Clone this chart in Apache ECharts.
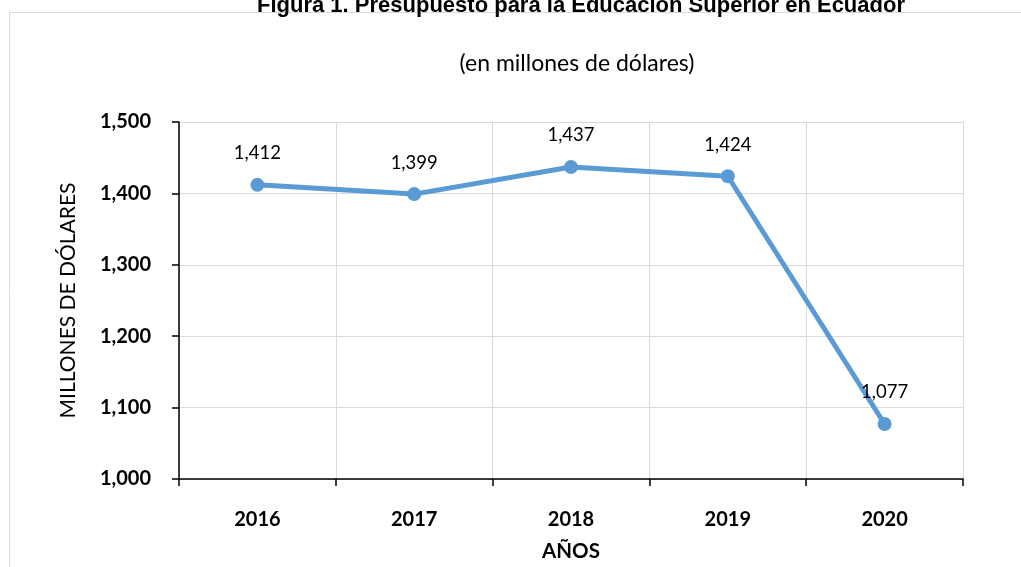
<!DOCTYPE html>
<html><head><meta charset="utf-8">
<script src="https://cdn.jsdelivr.net/npm/echarts@6/dist/echarts.min.js"></script>
<style>html,body{margin:0;padding:0;background:#fff}#c{width:1021px;height:567px}</style>
</head><body><div id="c"></div>
<script>
const categories = ['2016', '2017', '2018', '2019', '2020'];
const values = [1412, 1399, 1437, 1424, 1077];
const yTicks = [1000, 1100, 1200, 1300, 1400, 1500];

const fmt = v => Number(v).toLocaleString('en-US');
const chart = echarts.init(document.getElementById('c'));
chart.setOption({
  animation: false,
  backgroundColor: '#fff',
  graphic: [
    {type: 'rect', shape: {x: 9.5, y: 12.5, width: 1040, height: 600}, style: {fill: 'none', stroke: '#d9d9d9', lineWidth: 1}, z: 0},
    {type: 'text', x: 581, y: 17, z: 10, style: {text: 'Figura 1. Presupuesto para la Educación Superior en Ecuador', font: 'bold 22px "Liberation Sans", Arial', fill: '#000', align: 'center', verticalAlign: 'bottom'}}
  ],
  title: {
    text: '(en millones de dólares)', left: 572, top: 47, textAlign: 'center',
    textStyle: {fontFamily: 'Lato', fontWeight: 'normal', fontSize: 23, color: '#000'}
  },
  grid: {left: 179, right: 58, top: 122, bottom: 87},
  xAxis: {
    type: 'category', data: categories,
    name: 'AÑOS', nameLocation: 'middle', nameGap: 62,
    nameTextStyle: {fontFamily: 'Lato', fontWeight: 'bold', fontSize: 20.5, color: '#000'},
    axisLine: {lineStyle: {color: '#000', width: 1.5}},
    axisTick: {show: true, length: 7, lineStyle: {color: '#000', width: 1.5}},
    axisLabel: {margin: 31, fontFamily: 'Lato', fontWeight: 'bold', fontSize: 20, color: '#000'},
    splitLine: {show: true, lineStyle: {color: '#d9d9d9', width: 1}}
  },
  yAxis: {
    type: 'value', min: yTicks[0], max: yTicks[yTicks.length - 1], interval: 100,
    name: 'MILLONES DE DÓLARES', nameLocation: 'middle', nameGap: 100, nameRotate: 90,
    nameTextStyle: {fontFamily: 'Lato', fontWeight: 'normal', fontSize: 21, color: '#000'},
    axisLine: {show: true, lineStyle: {color: '#000', width: 1.5}},
    axisTick: {show: true, length: 7, lineStyle: {color: '#000', width: 1.5}},
    axisLabel: {margin: 28, fontFamily: 'Lato', fontWeight: 'bold', fontSize: 20, color: '#000', formatter: fmt},
    splitLine: {show: true, lineStyle: {color: '#d9d9d9', width: 1}}
  },
  series: [{
    type: 'line', data: values,
    symbol: 'circle', symbolSize: 14,
    lineStyle: {color: '#5b9bd5', width: 5},
    itemStyle: {color: '#5b9bd5'},
    label: {show: true, position: 'top', distance: 15, formatter: p => fmt(p.value), fontFamily: 'Lato', fontSize: 18.5, color: '#000'}
  }]
});
</script></body></html>
